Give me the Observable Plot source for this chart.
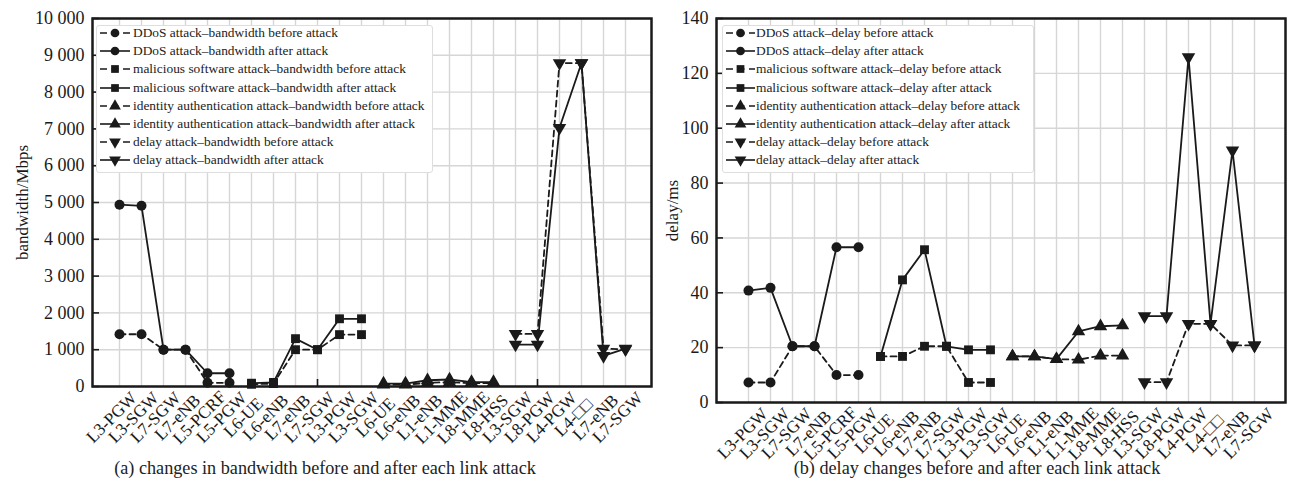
<!DOCTYPE html>
<html>
<head>
<meta charset="utf-8">
<script src="https://cdn.jsdelivr.net/npm/d3@7"></script>
<script src="https://cdn.jsdelivr.net/npm/@observablehq/plot@0.6"></script>
<style>
  body { margin: 0; background: #fff; font-family: "Liberation Serif", "DejaVu Serif", serif; }
  #wrap { position: relative; width: 1289px; height: 489px; overflow: hidden; background: #fff; }
  .chart { position: absolute; top: 0; }
  .legend { position: absolute; background: #fff; border: 1px solid #dedede; border-radius: 3px; box-sizing: border-box; }
  .row { position: absolute; left: 0; height: 18px; display: flex; align-items: center; white-space: nowrap; font-size: 13.4px; color: #222; }
  .row svg { display: block; }
  .caption { position: absolute; font-size: 18.2px; line-height: 20px; color: #222; text-align: center; white-space: nowrap; }
</style>
</head>
<body>
<div id="wrap"></div>
<script>
// ---------- categories ----------
const links = ["L3-PGW","L3-SGW","L7-SGW","L7-eNB","L5-PCRF","L5-PGW",
               "L6-UE","L6-eNB","L7-eNB","L7-SGW","L3-PGW","L3-SGW",
               "L6-UE","L6-eNB","L1-eNB","L1-MME","L8-MME","L8-HSS",
               "L3-SGW","L8-PGW","L4-PGW","L4-\u25A1\u25A1","L7-eNB","L7-SGW"];
const attacks = ["DDoS attack","malicious software attack","identity authentication attack","delay attack"];
const attackSymbols = ["circle","square","triangle","triangle"];
const attackRotate = [0, 0, 0, 180];

// ---------- bandwidth (Mbps) ----------
const bwDDoSBefore  = [1420, 1420, 1000, 1000, 100, 100];
const bwDDoSAfter   = [4940, 4910, 1000, 1000, 360, 360];
const bwMalBefore   = [60, 80, 1000, 1000, 1410, 1410];
const bwMalAfter    = [90, 110, 1300, 1000, 1840, 1840];
const bwIdBefore    = [50, 50, 100, 120, 90, 90];
const bwIdAfter     = [80, 80, 170, 190, 120, 120];
const bwDelayBefore = [1430, 1430, 8790, 8790, 1030, 1010];
const bwDelayAfter  = [1140, 1140, 7030, 8790, 830, 1030];

// ---------- delay (ms) ----------
const dlDDoSBefore  = [7.3, 7.3, 20.5, 20.5, 10, 10];
const dlDDoSAfter   = [40.8, 41.8, 20.5, 20.5, 56.6, 56.6];
const dlMalBefore   = [16.8, 16.8, 20.5, 20.5, 7.3, 7.3];
const dlMalAfter    = [16.8, 44.7, 55.7, 20.5, 19.2, 19.2];
const dlIdBefore    = [16.8, 16.8, 15.8, 15.6, 17.1, 17.1];
const dlIdAfter     = [16.8, 16.8, 15.8, 25.9, 27.8, 28.1];
const dlDelayBefore = [7.4, 7.4, 28.7, 28.7, 20.8, 20.8];
const dlDelayAfter  = [31.5, 31.5, 125.9, 28.7, 91.9, 20.8];

// ---------- axis ticks ----------
const bwTicks = [0,1000,2000,3000,4000,5000,6000,7000,8000,9000,10000];
const dlTicks = [0,20,40,60,80,100,120,140];
const bwMajorX = [9, 19];

function buildRows(beforeArrs, afterArrs) {
  const out = [];
  attacks.forEach((a, k) => {
    beforeArrs[k].forEach((v, j) => out.push({i: k * 6 + j, value: v, attack: a, k, phase: "before"}));
    afterArrs[k].forEach((v, j) => out.push({i: k * 6 + j, value: v, attack: a, k, phase: "after"}));
  });
  return out;
}
const bwRows = buildRows([bwDDoSBefore, bwMalBefore, bwIdBefore, bwDelayBefore],
                         [bwDDoSAfter, bwMalAfter, bwIdAfter, bwDelayAfter]);
const dlRows = buildRows([dlDDoSBefore, dlMalBefore, dlIdBefore, dlDelayBefore],
                         [dlDDoSAfter, dlMalAfter, dlIdAfter, dlDelayAfter]);

const spaceFmt = d3.formatLocale({decimal: ".", thousands: " ", grouping: [3], currency: ["", ""]}).format(",");

function chart(o) {
  const plotW = o.width - o.marginLeft - o.marginRight;
  const plotH = o.height - o.marginTop - o.marginBottom;
  const idx = d3.range(links.length);
  const ink = "#1a1a1a";
  return Plot.plot({
    width: o.width, height: o.height,
    marginLeft: o.marginLeft, marginRight: o.marginRight, marginTop: o.marginTop, marginBottom: o.marginBottom,
    style: {fontFamily: "'Liberation Serif', 'DejaVu Serif', serif", background: "transparent", color: ink},
    x: {type: "point", domain: idx, padding: o.padding, axis: null},
    y: {domain: [0, o.yTicks[o.yTicks.length - 1]], axis: null},
    symbol: {domain: attacks, range: attackSymbols},
    marks: [
      Plot.gridX(idx, {stroke: "#d6d6d6", strokeOpacity: 1, strokeWidth: 1.4}),
      Plot.gridY(o.yTicks, {stroke: "#d6d6d6", strokeOpacity: 1, strokeWidth: 1.4}),
      Plot.tickY(o.yTicks, {y: d => d, insetRight: plotW - 7, stroke: ink, strokeWidth: 1.6}),
      Plot.tickX(o.majorX, {x: d => d, insetTop: plotH - 7, stroke: ink, strokeWidth: 1.6}),
      Plot.axisY(o.yTicks, {tickSize: 0, tickPadding: 8, tickFormat: o.fmt, fontSize: 18, label: null}),
      Plot.text([o.yLabel], {text: d => d, frameAnchor: "left", textAnchor: "middle", lineAnchor: "middle",
                             dx: o.labelDx, rotate: -90, fontSize: 17, fill: ink}),
      Plot.text(idx, {x: d => d, text: d => links[d], frameAnchor: "bottom", dx: o.tickDx, dy: o.tickDy,
                      rotate: -45, textAnchor: "middle", lineAnchor: "middle", fontSize: 17.2, fill: ink}),
      Plot.line(o.data.filter(d => d.phase === "before"), {x: "i", y: "value", z: "attack", stroke: ink, strokeWidth: 1.8, strokeDasharray: "6,4"}),
      Plot.line(o.data.filter(d => d.phase === "after"), {x: "i", y: "value", z: "attack", stroke: ink, strokeWidth: 1.8}),
      Plot.dot(o.data, {x: "i", y: "value", symbol: "attack", rotate: d => attackRotate[d.k], r: 5, fill: ink, stroke: "none"}),
      Plot.frame({stroke: ink, strokeWidth: 2.5})
    ]
  });
}

const wrap = document.getElementById("wrap");

function place(node, left) {
  node.classList.add("chart");
  node.style.left = left + "px";
  wrap.appendChild(node);
}

place(chart({
  data: bwRows, yTicks: bwTicks, fmt: spaceFmt, yLabel: "bandwidth/Mbps", majorX: bwMajorX,
  width: 656, height: 489, marginLeft: 92, marginRight: 5, marginTop: 18, marginBottom: 103,
  padding: 1, labelDx: -70, tickDx: -8, tickDy: 31
}), 0);

place(chart({
  data: dlRows, yTicks: dlTicks, fmt: d3.format("d"), yLabel: "delay/ms", majorX: [],
  width: 633, height: 489, marginLeft: 60, marginRight: 4, marginTop: 18, marginBottom: 87,
  padding: 1.1, labelDx: -44, tickDx: -6, tickDy: 31
}), 656);

function legend(left, top, w, h, metric, markerLeft, markerW, textGap) {
  const box = document.createElement("div");
  box.className = "legend";
  Object.assign(box.style, {left: left + "px", top: top + "px", width: w + "px", height: h + "px"});
  attacks.forEach((a, k) => {
    ["before", "after"].forEach((phase, p) => {
      const r = k * 2 + p;
      const row = document.createElement("div");
      row.className = "row";
      row.style.top = (8 + r * 18.2 - 9 - 1) + "px";
      row.style.left = markerLeft + "px";
      const svg = d3.create("svg").attr("width", markerW).attr("height", 14);
      svg.append("line").attr("x1", 0).attr("x2", markerW).attr("y1", 7).attr("y2", 7)
        .attr("stroke", "#1a1a1a").attr("stroke-width", 1.6)
        .attr("stroke-dasharray", phase === "before" ? "7,4.5" : null);
      const type = k === 0 ? d3.symbolCircle : k === 1 ? d3.symbolSquare : d3.symbolTriangle;
      svg.append("path").attr("d", d3.symbol(type, 60)())
        .attr("transform", `translate(${markerW / 2},7) rotate(${attackRotate[k]})`)
        .attr("fill", "#1a1a1a");
      row.appendChild(svg.node());
      const span = document.createElement("span");
      span.style.marginLeft = textGap + "px";
      span.textContent = `${a}\u2013${metric} ${phase} attack`;
      row.appendChild(span);
      box.appendChild(row);
    });
  });
  wrap.appendChild(box);
}
legend(96, 25, 337, 148, "bandwidth", 3, 30, 3);
legend(722, 25, 312, 148, "delay", 3, 29, 1);

function caption(text, center) {
  const c = document.createElement("div");
  c.className = "caption";
  c.textContent = text;
  Object.assign(c.style, {left: (center - 300) + "px", width: "600px", top: "458px"});
  wrap.appendChild(c);
}
caption("(a) changes in bandwidth before and after each link attack", 325);
caption("(b) delay changes before and after each link attack", 977);
</script>
</body>
</html>
